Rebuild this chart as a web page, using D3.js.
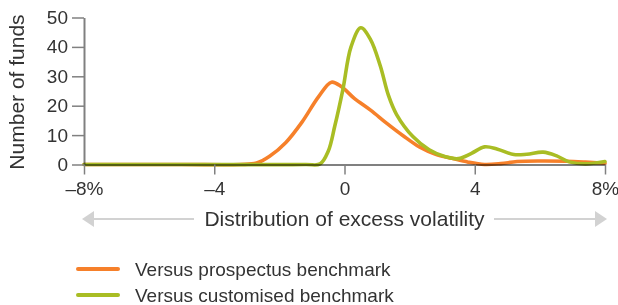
<!DOCTYPE html>
<html>
<head>
<meta charset="utf-8">
<script src="https://cdn.jsdelivr.net/npm/d3@7"></script>
<style>
  body { margin: 0; background: #fff; }
  text { font-family: "Liberation Sans", Arial, sans-serif; fill: #333; }
</style>
</head>
<body>
<div id="chart"></div>
<script>
// ---------------- data ----------------
// excess volatility (%) vs number of funds
let prospectusX = [-8, -5, -3.2, -2.7, -2.3, -1.8, -1.3, -0.8, -0.4, -0.1, 0.3, 0.8, 1.3, 1.8, 2.3, 2.8, 3.3, 3.8, 4.3, 4.8, 5.3, 6, 6.8, 7.4, 8];
let prospectusY = [0, 0, 0, 0.5, 2.8, 7.5, 14.5, 23, 28, 26.5, 22.5, 18.5, 14, 9.8, 6, 3.5, 2.1, 0.8, 0, 0.3, 1, 1.2, 1.1, 0.8, 0.4];

let customisedX = [-8, -5, -1.2, -0.75, -0.5, -0.3, -0.05, 0.2, 0.5, 0.8, 1.1, 1.35, 1.6, 2.1, 2.6, 3.1, 3.5, 3.9, 4.3, 4.7, 5.2, 5.6, 6.1, 6.5, 6.9, 7.4, 8];
let customisedY = [0, 0, 0, 0.2, 4.5, 13, 25.5, 40, 46.5, 42.5, 33.5, 23.5, 17, 9.5, 5, 2.6, 2, 3.8, 6, 5.2, 3.4, 3.5, 4.2, 3, 0.9, 0.2, 1];

let xTicks = [-8, -4, 0, 4, 8];
let xTickLabels = ["\u20138%", "\u20134", "0", "4", "8%"];
let yTicks = [0, 10, 20, 30, 40, 50];

let seriesNames = ["Versus prospectus benchmark", "Versus customised benchmark"];
let seriesColors = ["#f6802a", "#a9bd24"];

// ---------------- svg ----------------
let width = 618, height = 305;

let svg = d3.select("#chart").append("svg")
    .attr("width", width).attr("height", height);

// scales
let xScale = d3.scaleLinear().domain([-8, 8]).range([84, 605]);
let yScale = d3.scaleLinear().domain([0, 50]).range([164.5, 17.5]);

// curves
let line = d3.line()
    .x(d => xScale(d[0]))
    .y(d => yScale(Math.max(0, d[1])))
    .curve(d3.curveCatmullRom.alpha(0.5));

let series = [
    d3.zip(prospectusX, prospectusY),
    d3.zip(customisedX, customisedY)
];

series.forEach(function (pts, i) {
    svg.append("path")
        .datum(pts)
        .attr("d", line)
        .attr("fill", "none")
        .attr("stroke", seriesColors[i])
        .attr("stroke-width", 3.6)
        .attr("stroke-linejoin", "round")
        .attr("stroke-linecap", "round");
});

// axes (drawn over the lines, multiplied so the flat green reads olive)
let yAxis = d3.axisLeft(yScale).tickValues(yTicks).tickSize(12).tickSizeOuter(0).tickPadding(4);
let xAxis = d3.axisBottom(xScale).tickValues(xTicks).tickSize(10).tickSizeOuter(0).tickPadding(7)
    .tickFormat((d, i) => xTickLabels[i]);

let yG = svg.append("g")
    .attr("transform", `translate(${xScale(-8)},0)`)
    .call(yAxis);

let xG = svg.append("g")
    .attr("transform", `translate(0,${yScale(0)})`)
    .call(xAxis);

[yG, xG].forEach(function (g) {
    g.select(".domain").attr("stroke", "#808080").attr("stroke-width", 2)
        .style("mix-blend-mode", "multiply");
    g.selectAll(".tick line").attr("stroke", "#808080").attr("stroke-width", 1.5);
    g.selectAll(".tick text").attr("fill", "#333")
        .style("font-size", "19px")
        .style("font-family", "'Liberation Sans', Arial, sans-serif");
});

// y title
svg.append("text")
    .attr("transform", "translate(24,92) rotate(-90)")
    .attr("text-anchor", "middle")
    .style("font-size", "21px")
    .text("Number of funds");

// x title with arrows
let titleY = 226;
svg.append("text")
    .attr("x", xScale(0))
    .attr("y", titleY)
    .attr("text-anchor", "middle")
    .style("font-size", "21px")
    .text("Distribution of excess volatility");

let arrowY = 219;
let arrowCol = "#d2d2d2";
svg.append("line")
    .attr("x1", xScale(-8) + 8).attr("x2", 194)
    .attr("y1", arrowY).attr("y2", arrowY)
    .attr("stroke", arrowCol).attr("stroke-width", 2);
svg.append("line")
    .attr("x1", 494).attr("x2", xScale(8) - 8)
    .attr("y1", arrowY).attr("y2", arrowY)
    .attr("stroke", arrowCol).attr("stroke-width", 2);
svg.append("path")
    .attr("d", `M${xScale(-8) - 2},${arrowY} L${xScale(-8) + 10},${arrowY - 8} L${xScale(-8) + 10},${arrowY + 8} Z`)
    .attr("fill", arrowCol);
svg.append("path")
    .attr("d", `M${xScale(8) + 2},${arrowY} L${xScale(8) - 10},${arrowY - 8} L${xScale(8) - 10},${arrowY + 8} Z`)
    .attr("fill", arrowCol);

// legend
let legend = svg.append("g");
seriesNames.forEach(function (name, i) {
    let ly = 269 + i * 26;
    legend.append("line")
        .attr("x1", 78).attr("x2", 118)
        .attr("y1", ly).attr("y2", ly)
        .attr("stroke", seriesColors[i])
        .attr("stroke-width", 4)
        .attr("stroke-linecap", "round");
    legend.append("text")
        .attr("x", 135).attr("y", ly + 7)
        .style("font-size", "19px")
        .text(name);
});
</script>
</body>
</html>
